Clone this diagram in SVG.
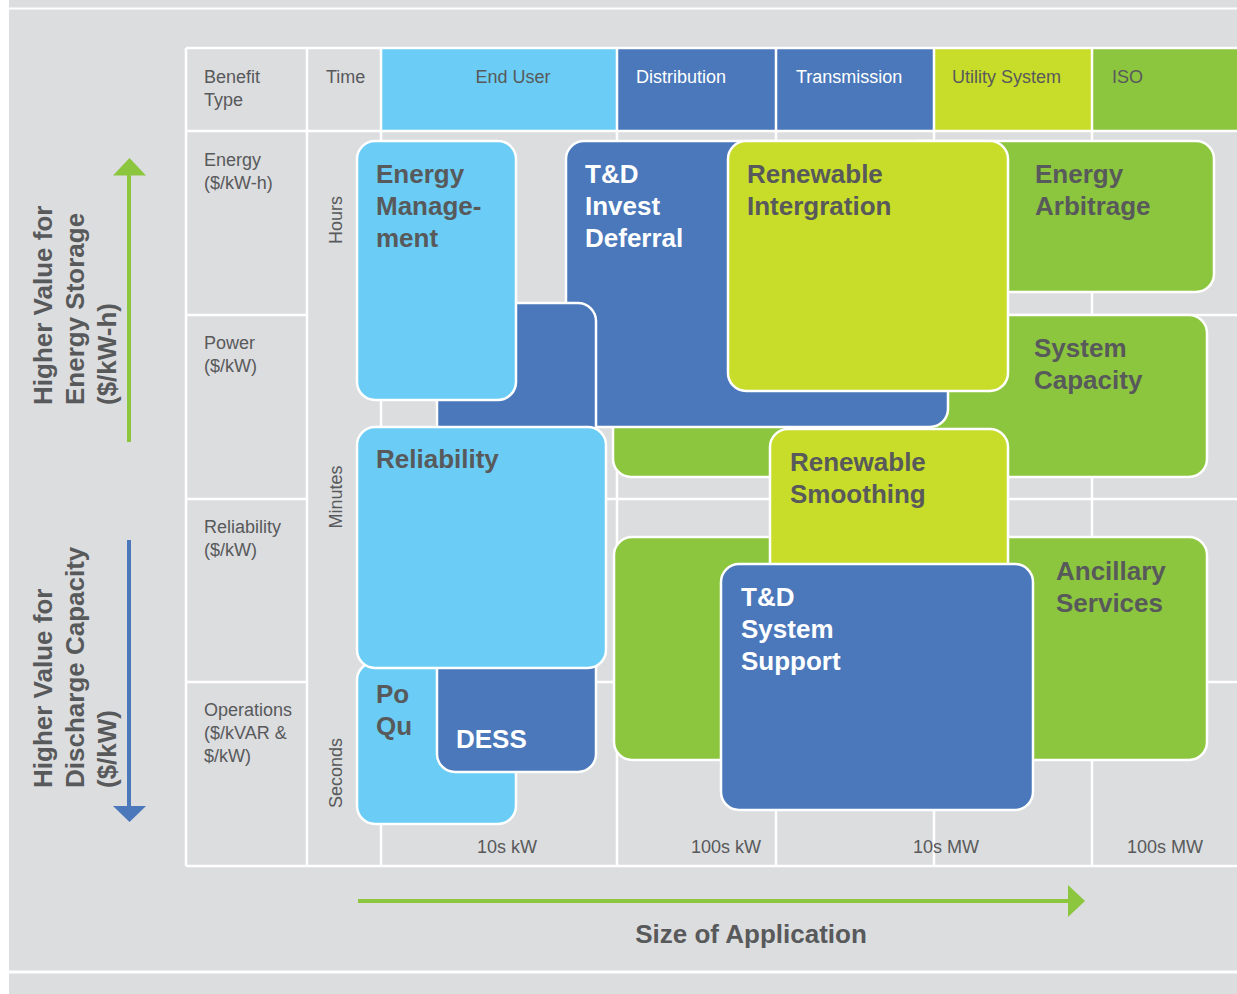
<svg xmlns="http://www.w3.org/2000/svg" width="1237" height="994" viewBox="0 0 1237 994">
<style>
.grid{stroke:#ffffff;stroke-width:2.5;fill:none}
.box{stroke:#ffffff;stroke-width:2.5}
.lb{fill:#6bcdf5}.bl{fill:#4a78bb}.yg{fill:#c8dc2a}.gr{fill:#8cc63f}
.t{font-family:"Liberation Sans",Arial,sans-serif;font-size:18px;fill:#58595b}
.tw{fill:#ffffff}
.big{font-family:"Liberation Sans",Arial,sans-serif;font-size:26px;font-weight:bold;fill:#58595b}
.bigw{fill:#ffffff}
</style>
<rect x="0" y="0" width="1237" height="994" fill="#ffffff"/>
<rect x="9" y="0" width="1228" height="994" fill="#dcdddf"/>
<line x1="9" y1="8.5" x2="1237" y2="8.5" stroke="#ffffff" stroke-width="2"/>
<line x1="9" y1="972" x2="1237" y2="972" stroke="#ffffff" stroke-width="3"/>

<g id="table">
  <rect x="381" y="48" width="236" height="83" class="lb"/>
  <rect x="617" y="48" width="159" height="83" class="bl"/>
  <rect x="776" y="48" width="158" height="83" class="bl"/>
  <rect x="934" y="48" width="158" height="83" class="yg"/>
  <rect x="1092" y="48" width="145" height="83" class="gr"/>
  <path class="grid" d="M186 48H1237M186 131H1237M186 315H307M381 315H1237M186 499H307M381 499H1237M186 682H307M381 682H1237M186 866H1237M186 48V866M307 48V866M381 48V866M617 48V866M776 48V866M934 48V866M1092 48V866"/>
  <text class="t" x="204" y="83">Benefit</text>
  <text class="t" x="204" y="106">Type</text>
  <text class="t" x="326" y="83">Time</text>
  <text class="t" x="513" y="83" text-anchor="middle">End User</text>
  <text class="t tw" x="636" y="83">Distribution</text>
  <text class="t tw" x="796" y="83">Transmission</text>
  <text class="t" x="952" y="83">Utility System</text>
  <text class="t" x="1112" y="83">ISO</text>
  <text class="t" x="204" y="166">Energy</text>
  <text class="t" x="204" y="189">($/kW-h)</text>
  <text class="t" x="204" y="349">Power</text>
  <text class="t" x="204" y="372">($/kW)</text>
  <text class="t" x="204" y="533">Reliability</text>
  <text class="t" x="204" y="556">($/kW)</text>
  <text class="t" x="204" y="716">Operations</text>
  <text class="t" x="204" y="739">($/kVAR &amp;</text>
  <text class="t" x="204" y="762">$/kW)</text>
  <text class="t" transform="translate(342,220) rotate(-90)" text-anchor="middle">Hours</text>
  <text class="t" transform="translate(342,497) rotate(-90)" text-anchor="middle">Minutes</text>
  <text class="t" transform="translate(342,773) rotate(-90)" text-anchor="middle">Seconds</text>
  <text class="t" x="507" y="853" text-anchor="middle">10s kW</text>
  <text class="t" x="726" y="853" text-anchor="middle">100s kW</text>
  <text class="t" x="946" y="853" text-anchor="middle">10s MW</text>
  <text class="t" x="1165" y="853" text-anchor="middle">100s MW</text>
</g>

<g id="system-capacity">
  <rect class="box gr" x="613" y="315" width="594" height="162" rx="18"/>
  <text class="big" x="1034" y="357">System</text>
  <text class="big" x="1034" y="389">Capacity</text>
</g>
<g id="ancillary-services">
  <rect class="box gr" x="614" y="537" width="593" height="223" rx="18"/>
  <text class="big" x="1056" y="580">Ancillary</text>
  <text class="big" x="1056" y="612">Services</text>
</g>
<g id="energy-arbitrage">
  <rect class="box gr" x="900" y="141" width="314" height="151" rx="18"/>
  <text class="big" x="1035" y="183">Energy</text>
  <text class="big" x="1035" y="215">Arbitrage</text>
</g>
<g id="td-invest-deferral">
  <rect class="box bl" x="566" y="141" width="382" height="286" rx="18"/>
  <text class="big bigw" x="585" y="183">T&amp;D</text>
  <text class="big bigw" x="585" y="215">Invest</text>
  <text class="big bigw" x="585" y="247">Deferral</text>
</g>
<g id="renewable-integration">
  <rect class="box yg" x="728" y="141" width="280" height="250" rx="18"/>
  <text class="big" x="747" y="183">Renewable</text>
  <text class="big" x="747" y="215">Intergration</text>
</g>
<g id="power-quality">
  <rect class="box lb" x="357" y="662" width="159" height="162" rx="18"/>
  <text class="big" x="376" y="703">Po</text>
  <text class="big" x="376" y="735">Qu</text>
</g>
<g id="dess">
  <rect class="box bl" x="437" y="303" width="159" height="469" rx="18"/>
  <text class="big bigw" x="456" y="748">DESS</text>
</g>
<g id="energy-management">
  <rect class="box lb" x="357" y="141" width="159" height="259" rx="18"/>
  <text class="big" x="376" y="183">Energy</text>
  <text class="big" x="376" y="215">Manage-</text>
  <text class="big" x="376" y="247">ment</text>
</g>
<g id="reliability">
  <rect class="box lb" x="357" y="427" width="249" height="241" rx="18"/>
  <text class="big" x="376" y="468">Reliability</text>
</g>
<g id="renewable-smoothing">
  <rect class="box yg" x="770" y="429" width="238" height="190" rx="18"/>
  <text class="big" x="790" y="471">Renewable</text>
  <text class="big" x="790" y="503">Smoothing</text>
</g>
<g id="td-system-support">
  <rect class="box bl" x="721" y="564" width="312" height="246" rx="18"/>
  <text class="big bigw" x="741" y="606">T&amp;D</text>
  <text class="big bigw" x="741" y="638">System</text>
  <text class="big bigw" x="741" y="670">Support</text>
</g>

<g id="axes">
  <line x1="129" y1="442" x2="129" y2="172" stroke="#8cc63f" stroke-width="4"/>
  <polygon points="113,175.5 146,175.5 129.5,158" fill="#8cc63f"/>
  <line x1="129" y1="540" x2="129" y2="808" stroke="#4a78bb" stroke-width="4"/>
  <polygon points="113,806 146,806 129.5,822" fill="#4a78bb"/>
  <line x1="358" y1="901" x2="1071" y2="901" stroke="#8cc63f" stroke-width="4"/>
  <polygon points="1068,885 1068,917 1085,901" fill="#8cc63f"/>
  <text class="big" transform="translate(52,405) rotate(-90)"><tspan x="0" y="0">Higher Value for</tspan><tspan x="0" y="32">Energy Storage</tspan><tspan x="0" y="64">($/kW-h)</tspan></text>
  <text class="big" transform="translate(52,788) rotate(-90)"><tspan x="0" y="0">Higher Value for</tspan><tspan x="0" y="32">Discharge Capacity</tspan><tspan x="0" y="64">($/kW)</tspan></text>
  <text class="big" x="751" y="943" text-anchor="middle" font-size="24">Size of Application</text>
</g>
</svg>
